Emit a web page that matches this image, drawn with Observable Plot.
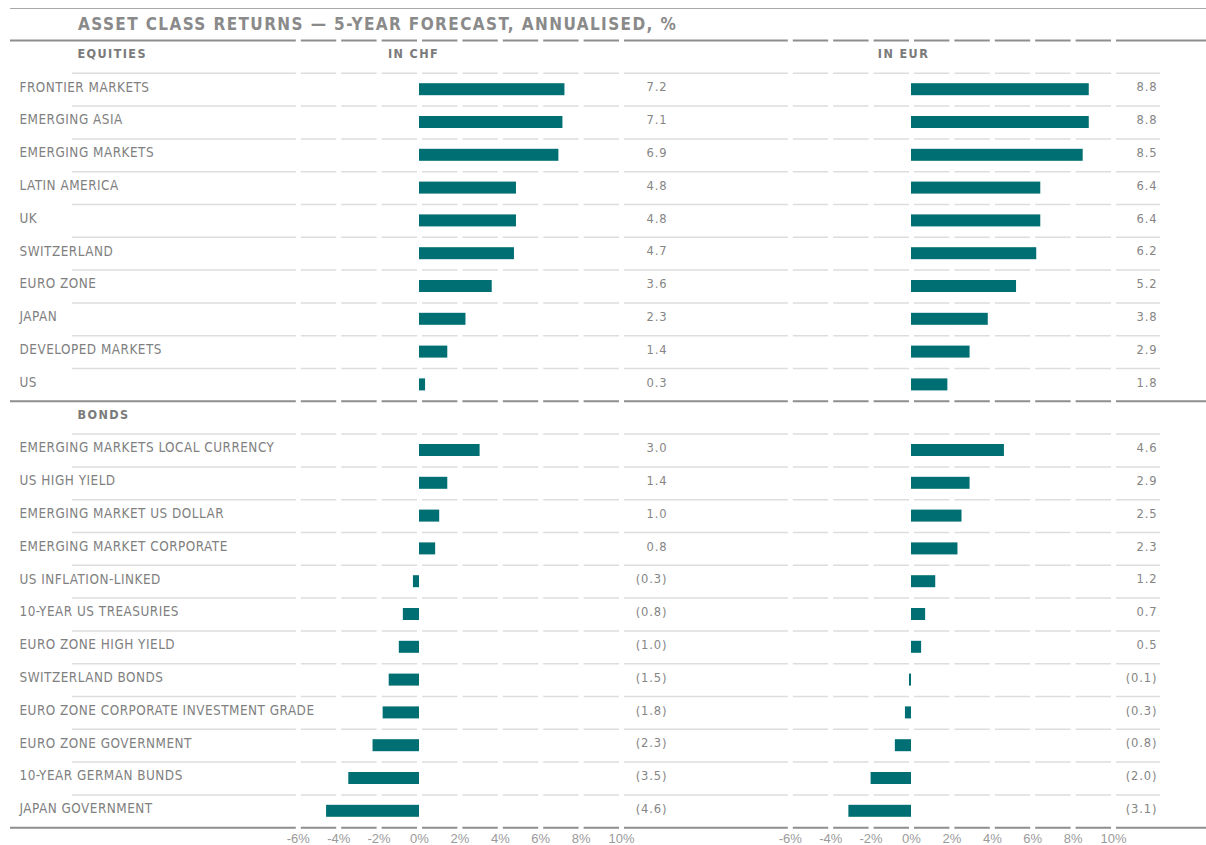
<!DOCTYPE html>
<html>
<head>
<meta charset="utf-8">
<script src="https://cdn.jsdelivr.net/npm/d3@7"></script>
<script src="https://cdn.jsdelivr.net/npm/@observablehq/plot@0.6"></script>
<style>
  html, body { margin: 0; padding: 0; background: #fff; }
  body { width: 1206px; height: 845px; position: relative; overflow: hidden; }
  #topline { position: absolute; left: 10px; top: 8px; width: 1196px; height: 0; border-top: 1px solid #a9a9a9; }
  #title { position: absolute; left: 78px; top: 13px; font-family: 'DejaVu Sans Condensed', 'Liberation Sans Narrow', Roboto, sans-serif; font-weight: bold; font-size: 17px; line-height: 22px; letter-spacing: 1.4px; color: #8a8a8a; white-space: nowrap; }
  #left { position: absolute; left: 0; top: 30px; line-height: 0; }
  #right { position: absolute; left: 700px; top: 30px; line-height: 0; }
</style>
</head>
<body>
<div id="topline"></div>
<div id="title">ASSET CLASS RETURNS — 5-YEAR FORECAST, ANNUALISED, %</div>
<div id="left"></div>
<div id="right"></div>
<script>
// ---- data ----
const sections = ["EQUITIES", "BONDS"];
const currencies = ["IN CHF", "IN EUR"];
const equities = ["FRONTIER MARKETS", "EMERGING ASIA", "EMERGING MARKETS", "LATIN AMERICA", "UK", "SWITZERLAND", "EURO ZONE", "JAPAN", "DEVELOPED MARKETS", "US"];
const equitiesCHF = [7.2, 7.1, 6.9, 4.8, 4.8, 4.7, 3.6, 2.3, 1.4, 0.3];
const equitiesEUR = [8.8, 8.8, 8.5, 6.4, 6.4, 6.2, 5.2, 3.8, 2.9, 1.8];
const bonds = ["EMERGING MARKETS LOCAL CURRENCY", "US HIGH YIELD", "EMERGING MARKET US DOLLAR", "EMERGING MARKET CORPORATE", "US INFLATION-LINKED", "10-YEAR US TREASURIES", "EURO ZONE HIGH YIELD", "SWITZERLAND BONDS", "EURO ZONE CORPORATE INVESTMENT GRADE", "EURO ZONE GOVERNMENT", "10-YEAR GERMAN BUNDS", "JAPAN GOVERNMENT"];
const bondsCHF = [3.0, 1.4, 1.0, 0.8, -0.3, -0.8, -1.0, -1.5, -1.8, -2.3, -3.5, -4.6];
const bondsEUR = [4.6, 2.9, 2.5, 2.3, 1.2, 0.7, 0.5, -0.1, -0.3, -0.8, -2.0, -3.1];
const ticks = [-6, -4, -2, 0, 2, 4, 6, 8, 10];

// ---- table built from the arrays ----
const rows = [];
rows.push({key: sections[0], label: sections[0], header: true});
equities.forEach((l, i) => rows.push({key: l, label: l, header: false, chf: equitiesCHF[i], eur: equitiesEUR[i]}));
rows.push({key: sections[1], label: sections[1], header: true});
bonds.forEach((l, i) => rows.push({key: l, label: l, header: false, chf: bondsCHF[i], eur: bondsEUR[i]}));
const keys = rows.map(d => d.key);
const dataRows = rows.filter(d => !d.header);
const headRows = rows.filter(d => d.header);
const lastKey = keys[keys.length - 1];
const fmt = v => v < 0 ? `(${Math.abs(v).toFixed(1)})` : v.toFixed(1);

// ---- styling ----
const LABELFONT = "'DejaVu Sans Condensed', 'Liberation Sans Narrow', Roboto, sans-serif";
const AXISFONT = "'Liberation Sans', Arial, sans-serif";
const TEAL = "#006f73";
const H = 815, MT = 10, MB = 17.8;
const BW = (H - MT - MB) / keys.length;

function panel(o) {
  const marks = [
    Plot.ruleY(dataRows, {y: "key", dy: -BW / 2, stroke: "#dddddd", strokeWidth: 1.5, insetLeft: -o.thinLeft, insetRight: -o.thinRight}),
    Plot.ruleY(headRows, {y: "key", dy: -BW / 2, stroke: "#8e8e8e", strokeWidth: 2, insetLeft: -o.thickLeft, insetRight: -o.thickRight}),
    Plot.ruleY([lastKey], {y: d => d, dy: BW / 2, stroke: "#8e8e8e", strokeWidth: 2, insetLeft: -o.thickLeft, insetRight: -o.thickRight}),
    Plot.ruleX(ticks, {x: d => d, stroke: "#ffffff", strokeWidth: 5, insetTop: -4, insetBottom: -4}),
    Plot.barX(dataRows, {x: o.value, y: "key", fill: TEAL, insetTop: 10.4, insetBottom: 10.4}),
    Plot.text(dataRows, {y: "key", text: d => fmt(d[o.value]), frameAnchor: "right", textAnchor: "end", dx: o.valueDx, dy: -2.4, fill: "#858585", fontSize: 12.8, fontFamily: LABELFONT}),
    Plot.text([o.header], {x: () => 0, y: () => keys[0], text: d => d, textAnchor: "middle", dx: o.headerDx, dy: -3, fill: "#7a7a7a", fontSize: 12.5, fontWeight: "bold", fontFamily: LABELFONT})
  ];
  if (o.labels) {
    marks.push(
      Plot.text(dataRows, {y: "key", text: "label", frameAnchor: "left", textAnchor: "start", dx: 19 - o.ml, dy: -2.4, fill: "#808080", fontSize: 13.4, fontFamily: LABELFONT}),
      Plot.text(headRows, {y: "key", text: "label", frameAnchor: "left", textAnchor: "start", dx: 77 - o.ml, dy: -3, fill: "#7a7a7a", fontSize: 12.5, fontWeight: "bold", fontFamily: LABELFONT})
    );
  }
  const svg = Plot.plot({
    width: o.width, height: H,
    marginTop: MT, marginBottom: MB, marginLeft: o.ml, marginRight: o.mr,
    style: {fontFamily: AXISFONT, fontSize: "13px", color: "#9a9a9a", background: "transparent", overflow: "visible"},
    x: {domain: [-6, 10], ticks: ticks, tickFormat: d => `${d}%`, tickSize: 0, tickPadding: 6, label: null},
    y: {type: "band", domain: keys, padding: 0, round: false, axis: null},
    marks
  });
  const groups = svg.querySelectorAll('g[aria-label="text"]');
  groups.forEach((g, i) => {
    if (i === 0) g.style.letterSpacing = "0.9px";      // values
    else if (i === 1) g.style.letterSpacing = "1.4px"; // column header
    else if (i === 2) g.style.letterSpacing = "0.5px"; // row labels
    else g.style.letterSpacing = "1.4px";               // section headers
  });
  return svg;
}

// left panel: zero at x=419, 20.2 px per percentage point
document.getElementById("left").appendChild(panel({
  width: 700, ml: 297.8, mr: 79, value: "chf", header: currencies[0], headerDx: -6, valueDx: 46, labels: true,
  thinLeft: 297.8 - 72, thinRight: 79, thickLeft: 297.8 - 10, thickRight: 79
}));
// right panel: zero at x=911
document.getElementById("right").appendChild(panel({
  width: 506, ml: 89.8, mr: 93, value: "eur", header: currencies[1], headerDx: -8, valueDx: 44, labels: false,
  thinLeft: 89.8, thinRight: 93 - 46, thickLeft: 89.8, thickRight: 93
}));
</script>
</body>
</html>
